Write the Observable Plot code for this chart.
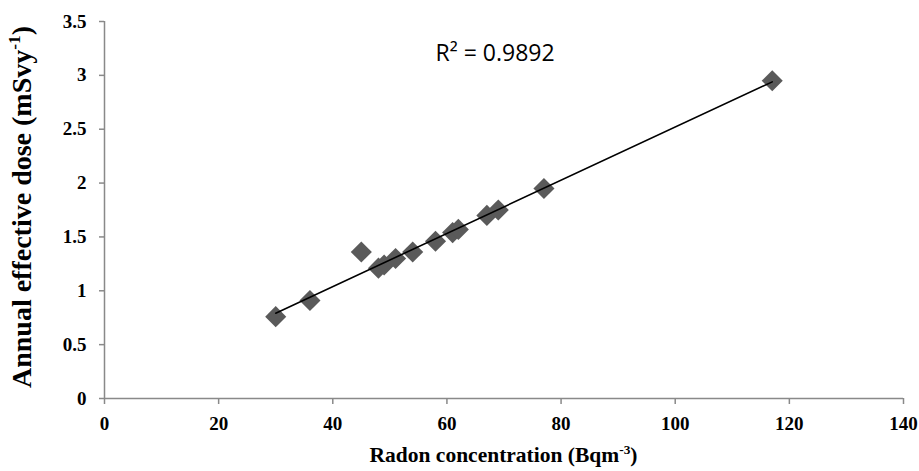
<!DOCTYPE html>
<html><head><meta charset="utf-8">
<script src="https://cdn.jsdelivr.net/npm/d3@7"></script>
<script src="https://cdn.jsdelivr.net/npm/@observablehq/plot@0.6"></script>
<style>body{margin:0;background:#fff} svg{display:block}</style>
</head><body><div id="chart"></div>
<script>
// Data
const radon = [30, 36, 45, 48, 49, 51, 54, 58, 61, 62, 67, 69, 77, 117];
const dose  = [0.76, 0.91, 1.36, 1.21, 1.24, 1.30, 1.36, 1.46, 1.54, 1.57, 1.70, 1.75, 1.95, 2.95];
const xTicks = [0, 20, 40, 60, 80, 100, 120, 140];
const yTicks = [0, 0.5, 1, 1.5, 2, 2.5, 3, 3.5];
const r2Label = "R² = 0.9892";
const xTitle = ["Radon concentration (Bqm", "-3", ")"];
const yTitle = ["Annual effective dose (mSvy", "-1", ")"];

const data = radon.map((x, i) => ({x, y: dose[i]}));
const W = 919, H = 471, ML = 104, MR = 16, MT = 21, MB = 73;
const axisGray = "#898989";
const serif = "'Liberation Serif', 'Times New Roman', serif";
const tickFont = {fontFamily: serif, fontWeight: "bold", fontSize: 19, fill: "#000"};

const plot = Plot.plot({
  width: W, height: H,
  marginLeft: ML, marginRight: MR, marginTop: MT, marginBottom: MB,
  style: {background: "#fff", color: "#000", overflow: "visible"},
  x: {domain: [0, 140], label: null},
  y: {domain: [0, 3.5], label: null},
  marks: [
    Plot.axisX({ticks: xTicks, tickSize: 6, stroke: axisGray, strokeWidth: 1.5, tickFormat: () => "", label: null}),
    Plot.axisY({ticks: yTicks, tickSize: 5, stroke: axisGray, strokeWidth: 1.5, tickFormat: () => "", label: null}),
    Plot.text(xTicks, {x: d => d, frameAnchor: "bottom", text: d => String(d), lineAnchor: "top", dy: 18, ...tickFont}),
    Plot.text(yTicks, {y: d => d, frameAnchor: "left", text: d => String(d), textAnchor: "end", dx: -18, ...tickFont}),
    Plot.ruleY([0], {stroke: axisGray, strokeWidth: 1.5}),
    Plot.ruleX([0], {stroke: axisGray, strokeWidth: 1.5}),
    Plot.dot(data, {x: "x", y: "y", symbol: "diamond2", r: 9.5, fill: "#5a5a5a", stroke: "none"}),
    Plot.linearRegressionY(data, {x: "x", y: "y", stroke: "#000", strokeWidth: 1.6, ci: 0}),
    Plot.text([r2Label], {text: d => d, frameAnchor: "top-left", dx: 331, dy: 32, textAnchor: "start", lineAnchor: "middle",
      fontFamily: "'Open Sans', sans-serif", fontWeight: "normal", fontSize: 23, fill: "#000"})
  ]
});
document.getElementById("chart").appendChild(plot);

const svg = d3.select(plot);
// Axis titles with superscripts
function addTitle(parts, attrs, size) {
  const t = svg.append("text").style("font-family", serif).style("font-weight", "bold")
    .style("font-size", size + "px").attr("fill", "#000").attr("text-anchor", "middle");
  Object.entries(attrs).forEach(([k, v]) => t.attr(k, v));
  t.append("tspan").text(parts[0]);
  t.append("tspan").style("font-size", (size * 0.62) + "px").attr("dy", -size * 0.38).text(parts[1]);
  t.append("tspan").attr("dy", size * 0.38).text(parts[2]);
}
addTitle(xTitle, {x: (ML + W - MR) / 2, y: 462}, 21.5);
addTitle(yTitle, {transform: `translate(31,207) rotate(-90)`}, 28);
</script>
</body></html>
